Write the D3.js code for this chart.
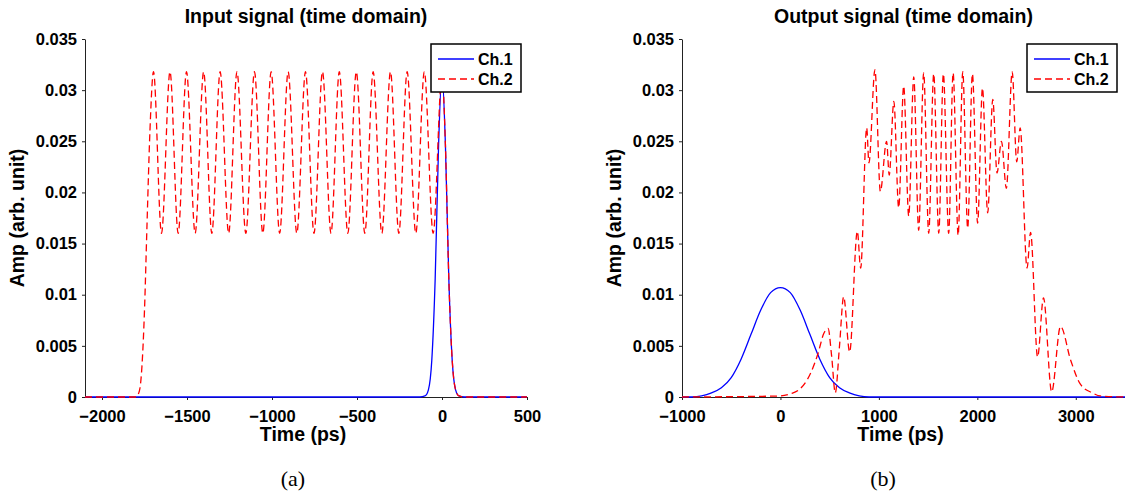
<!DOCTYPE html>
<html lang="en">
<head>
<meta charset="UTF-8" />
<title>Input / Output signal (time domain)</title>
<script src="https://d3js.org/d3.v7.min.js"></script>
<style>
  body { margin: 0; background: #fff; }
  svg { display: block; background: #fff; }
  text { font-family: "Liberation Sans", Arial, sans-serif; font-weight: bold; fill: #000; }
  .tag { font-family: "Liberation Serif", "DejaVu Serif", serif; font-weight: normal; }
</style>
</head>
<body>
<svg id="fig" width="1125" height="495"></svg>
<script>
  // values: [time (ps), amplitude]
  const inCh1 = [[-2100, 0], [-130, 0], [-100, 0.0001], [-80, 0.0007], [-60, 0.0036], [-40, 0.0116],
    [-20, 0.0247], [0, 0.0316], [20, 0.0247], [40, 0.0116], [60, 0.0036], [80, 0.0007], [100, 0.0001],
    [130, 0], [500, 0]];

  const inCh2 = [[-2100, 0], [-1800, 0], [-1780, 0.0006], [-1765, 0.003], [-1750, 0.0085], [-1735, 0.017],
    [-1718, 0.026], [-1697, 0.0318], [-1650, 0.016], [-1600, 0.0318], [-1552, 0.016], [-1503, 0.0318],
    [-1452, 0.016], [-1402, 0.0318], [-1354, 0.016], [-1305, 0.0318], [-1255, 0.016], [-1206, 0.0318],
    [-1154, 0.016], [-1103, 0.0318], [-1054, 0.016], [-1005, 0.0318], [-955, 0.016], [-905, 0.0318],
    [-854, 0.016], [-803, 0.0318], [-753, 0.016], [-703, 0.0318], [-653, 0.016], [-604, 0.0318],
    [-554, 0.016], [-504, 0.0318], [-454, 0.016], [-405, 0.0318], [-354, 0.016], [-303, 0.0318],
    [-254, 0.016], [-205, 0.0318], [-154, 0.016], [-104, 0.0318], [-52, 0.016], [0, 0.0316],
    [20, 0.0247], [40, 0.0116], [60, 0.0036], [80, 0.0007], [100, 0.0001], [130, 0], [500, 0]];

  const outCh1 = [[-1000, 0], [-900, 0], [-800, 0.0001], [-700, 0.0004], [-600, 0.0009], [-500, 0.0019],
    [-400, 0.0037], [-300, 0.0061], [-200, 0.0085], [-100, 0.0102], [0, 0.0107], [100, 0.0102],
    [200, 0.0085], [300, 0.0061], [400, 0.0037], [500, 0.0019], [600, 0.0009], [700, 0.0004],
    [800, 0.0001], [900, 0], [3500, 0]];

  const outCh2 = [[-1000, 0], [0, 0.0001], [100, 0.0003], [200, 0.0008], [300, 0.0022], [380, 0.0042],
    [440, 0.0062], [484, 0.0067], [520, 0.004], [557, 0.0004], [600, 0.005], [642, 0.0098], [703, 0.0044],
    [781, 0.0162], [815, 0.0126], [876, 0.0263], [899, 0.0229], [960, 0.032], [1015, 0.0201],
    [1078, 0.025], [1105, 0.0217], [1152, 0.0289], [1201, 0.0185], [1252, 0.0304], [1303, 0.0177],
    [1354, 0.0313], [1404, 0.0163], [1455, 0.0317], [1506, 0.016], [1557, 0.0316], [1608, 0.016],
    [1655, 0.0316], [1709, 0.016], [1754, 0.0317], [1805, 0.0158], [1852, 0.0318], [1902, 0.0165],
    [1950, 0.0316], [2003, 0.017], [2052, 0.0302], [2105, 0.018], [2157, 0.0291], [2200, 0.0219],
    [2245, 0.025], [2295, 0.0204], [2354, 0.0318], [2400, 0.023], [2435, 0.0263], [2505, 0.0126],
    [2541, 0.0161], [2612, 0.0039], [2672, 0.0097], [2755, 0.0005], [2845, 0.0069], [2948, 0.0036],
    [3050, 0.0012], [3170, 0.0004], [3250, 0.0001], [3500, 0]];

  const yTicks = [0, 0.005, 0.01, 0.015, 0.02, 0.025, 0.03, 0.035];
  const inXTicks = [-2000, -1500, -1000, -500, 0, 500];
  const outXTicks = [-1000, 0, 1000, 2000, 3000];
  const seriesNames = ["Ch.1", "Ch.2"];

  const svg = d3.select("#fig");
  const plotTop = 39, plotBottom = 397;

  const panels = [
    { title: "Input signal (time domain)", tag: "(a)", tagX: 293, x0: 85, x1: 527, domain: [-2100, 500],
      ticks: inXTicks, ch1: inCh1, ch2: inCh2, legendX: 431 },
    { title: "Output signal (time domain)", tag: "(b)", tagX: 883, x0: 682, x1: 1125, domain: [-1000, 3500],
      ticks: outXTicks, ch1: outCh1, ch2: outCh2, legendX: 1027 }
  ];

  const yFmt = d => d === 0 ? "0" : String(+d.toFixed(3));

  panels.forEach(p => {
    const x = d3.scaleLinear().domain(p.domain).range([p.x0, p.x1]);
    const y = d3.scaleLinear().domain([0, 0.035]).range([plotBottom, plotTop]);
    const g = svg.append("g");
    const mid = (p.x0 + p.x1) / 2;

    const line = d3.line()
      .x(d => x(d[0]))
      .y(d => y(d[1]))
      .curve(d3.curveMonotoneX);

    // axes
    const ya = g.append("g")
      .attr("transform", `translate(${p.x0},0)`)
      .call(d3.axisLeft(y).tickValues(yTicks).tickFormat(yFmt).tickSize(3).tickSizeOuter(0).tickPadding(5));
    const xa = g.append("g")
      .attr("transform", `translate(0,${plotBottom})`)
      .call(d3.axisBottom(x).tickValues(p.ticks).tickFormat(d3.format("d")).tickSize(3).tickSizeOuter(0).tickPadding(10));
    [ya, xa].forEach(a => {
      a.attr("font-family", null).attr("font-size", null);
      a.selectAll("text").style("font-size", "16.5px");
      a.select(".domain").attr("stroke", "#222");
      a.selectAll(".tick line").attr("stroke", "#222");
    });

    // curves
    g.append("path")
      .attr("d", line(p.ch1))
      .attr("fill", "none")
      .attr("stroke", "#0000ff")
      .attr("stroke-width", 1.3);
    g.append("path")
      .attr("d", line(p.ch2))
      .attr("fill", "none")
      .attr("stroke", "#ff0000")
      .attr("stroke-width", 1.3)
      .attr("stroke-dasharray", "7,4");

    // labels
    g.append("text")
      .attr("x", mid).attr("y", 23)
      .attr("text-anchor", "middle")
      .style("font-size", "19.5px")
      .text(p.title);
    g.append("text")
      .attr("x", mid - 3).attr("y", 441)
      .attr("text-anchor", "middle")
      .style("font-size", "19.5px")
      .text("Time (ps)");
    g.append("text")
      .attr("transform", `translate(${p.x0 - 61},${(plotTop + plotBottom) / 2}) rotate(-90)`)
      .attr("text-anchor", "middle")
      .style("font-size", "19.5px")
      .text("Amp (arb. unit)");
    g.append("text")
      .attr("class", "tag")
      .attr("x", p.tagX).attr("y", 486)
      .attr("text-anchor", "middle")
      .style("font-size", "22px")
      .text(p.tag);

    // legend
    const lg = g.append("g").attr("transform", `translate(${p.legendX},44)`);
    lg.append("rect")
      .attr("width", 90).attr("height", 48)
      .attr("fill", "#fff").attr("stroke", "#000").attr("stroke-width", 1.5);
    seriesNames.forEach((name, k) => {
      const ly = 15 + k * 20;
      lg.append("line")
        .attr("x1", 7).attr("x2", 43).attr("y1", ly).attr("y2", ly)
        .attr("stroke", k === 0 ? "#0000ff" : "#ff0000")
        .attr("stroke-width", 1.3)
        .attr("stroke-dasharray", k === 0 ? null : "7,4");
      lg.append("text")
        .attr("x", 47).attr("y", ly + 6)
        .style("font-size", "16px")
        .text(name);
    });
  });
</script>
</body>
</html>
